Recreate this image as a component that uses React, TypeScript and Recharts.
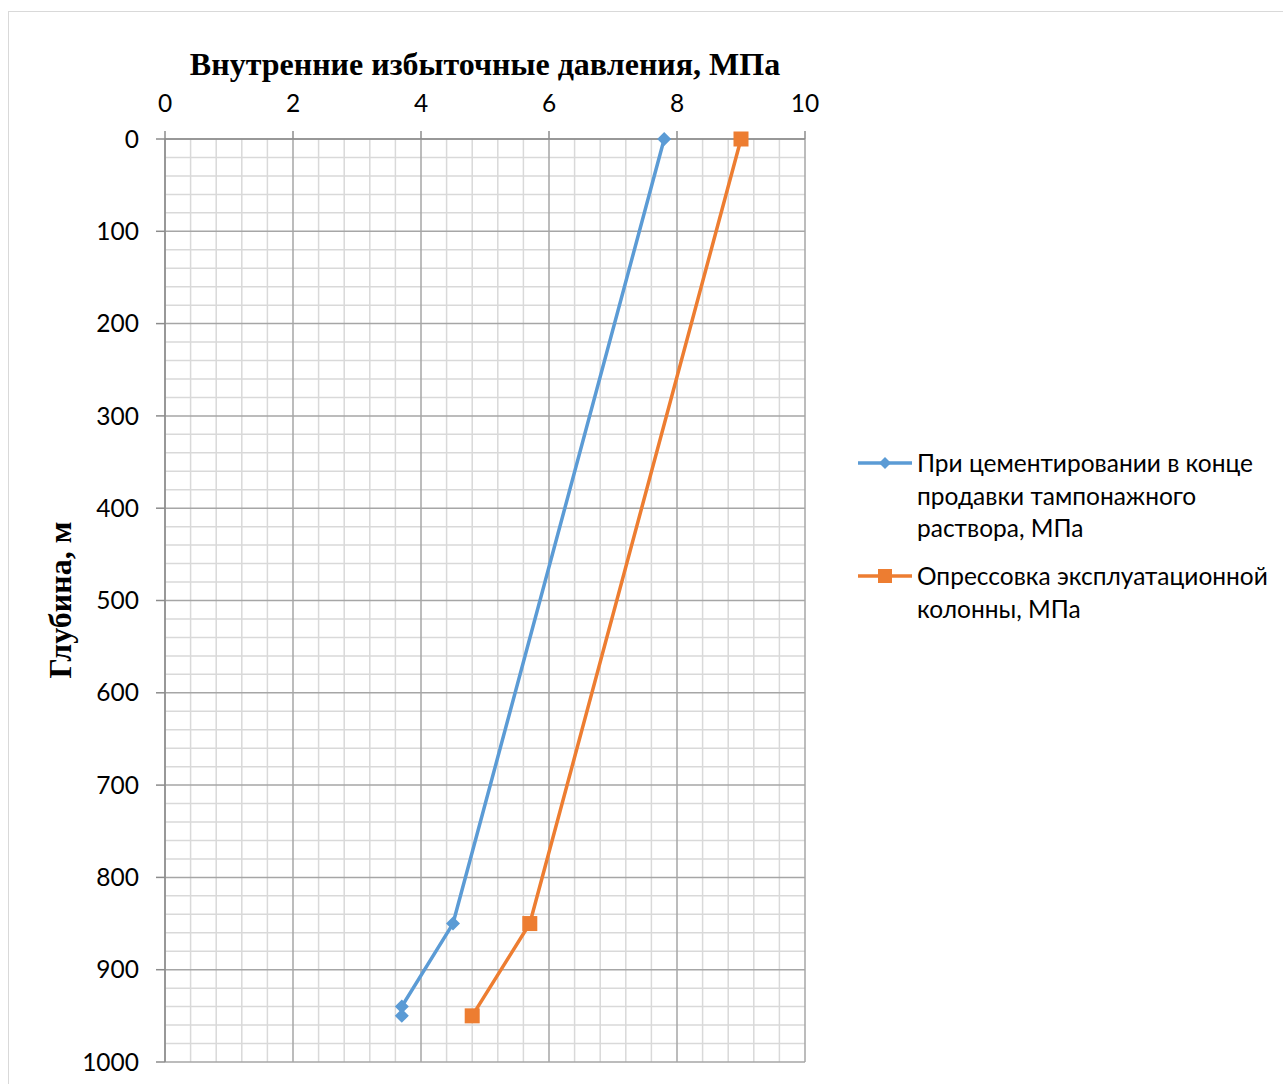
import React from "react";
import { ReferenceLine, Scatter, ScatterChart, XAxis, YAxis } from "recharts";

// Pressure (MPa) vs depth (m) for the two load cases
const cementingPressure = [7.8, 4.5, 3.7, 3.7];
const cementingDepth = [0, 850, 940, 950];
const testPressure = [9.0, 5.7, 4.8];
const testDepth = [0, 850, 950];

const pressureTicks = [0, 2, 4, 6, 8, 10];
const depthTicks = [0, 100, 200, 300, 400, 500, 600, 700, 800, 900, 1000];

const BLUE = "#5b9bd5";
const ORANGE = "#ed7d31";
const MINOR = "#d9d9d9";
const MAJOR = "#a6a6a6";
const FONT = "Lato, 'Open Sans', sans-serif";
const SERIF = "'Liberation Serif', 'Times New Roman', serif";

const cementing = cementingPressure.map((p, i) => ({ p, d: cementingDepth[i] }));
const test = testPressure.map((p, i) => ({ p, d: testDepth[i] }));

// minor grid every 0.4 MPa and every 20 m
const minorX: number[] = [];
for (let i = 1; i < 25; i++) if (i % 5 !== 0) minorX.push(+(i * 0.4).toFixed(1));
const minorY: number[] = [];
for (let i = 1; i < 50; i++) if (i % 5 !== 0) minorY.push(i * 20);

const Diamond = (props: any) => {
  const { cx, cy } = props;
  const r = 7;
  return <path d={`M${cx},${cy - r}L${cx + r},${cy}L${cx},${cy + r}L${cx - r},${cy}Z`} fill={BLUE} />;
};

const Square = (props: any) => {
  const { cx, cy } = props;
  const r = 7.5;
  return <rect x={cx - r} y={cy - r} width={2 * r} height={2 * r} fill={ORANGE} />;
};

const W = 1270;
const H = 1070;

function LegendRow({ color, marker, lines, top }: { color: string; marker: "d" | "s"; lines: string[]; top: number }) {
  return (
    <div style={{ position: "absolute", left: 849, top, display: "flex" }}>
      <svg width={56} height={32} style={{ flex: "none" }}>
        <line x1={0} x2={54} y1={16} y2={16} stroke={color} strokeWidth={3.5} />
        {marker === "d" ? (
          <path d="M27,10L33,16L27,22L21,16Z" fill={color} />
        ) : (
          <rect x={20} y={9} width={14} height={14} fill={color} />
        )}
      </svg>
      <div style={{ marginLeft: 3, fontFamily: FONT, fontSize: 24.5, lineHeight: "32.5px", color: "#000", whiteSpace: "nowrap" }}>
        {lines.map((l) => (
          <div key={l}>{l}</div>
        ))}
      </div>
    </div>
  );
}

export default function App() {
  return (
    <div style={{ position: "fixed", left: 0, top: 0, width: 1283, height: 1084, overflow: "hidden", background: "#fff" }}>
      <div
        style={{
          position: "absolute",
          left: 8,
          top: 11,
          width: 1300,
          height: 1100,
          border: "1px solid #d9d9d9",
          background: "#fff",
        }}
      >
        <ScatterChart width={W} height={H} margin={{ top: 97, left: 96, right: W - 796, bottom: H - 1050 }}>
          {minorX.map((v) => (
            <ReferenceLine key={`mx${v}`} x={v} stroke={MINOR} strokeWidth={1.5} />
          ))}
          {minorY.map((v) => (
            <ReferenceLine key={`my${v}`} y={v} stroke={MINOR} strokeWidth={1.5} />
          ))}
          {pressureTicks.map((v) => (
            <ReferenceLine key={`Mx${v}`} x={v} stroke={MAJOR} strokeWidth={1.5} />
          ))}
          {depthTicks.map((v) => (
            <ReferenceLine key={`My${v}`} y={v} stroke={MAJOR} strokeWidth={1.5} />
          ))}
          <XAxis
            type="number"
            dataKey="p"
            orientation="top"
            domain={[0, 10]}
            ticks={pressureTicks}
            interval={0}
            height={30}
            axisLine={{ stroke: "#8c8c8c", strokeWidth: 1.5 }}
            tickLine={{ stroke: "#8c8c8c", strokeWidth: 1.5 }}
            tickSize={8}
            tickMargin={19}
            tick={{ fill: "#000", fontSize: 24.5, fontFamily: FONT }}
          />
          <YAxis
            type="number"
            dataKey="d"
            reversed
            domain={[0, 1000]}
            ticks={depthTicks}
            interval={0}
            width={60}
            axisLine={{ stroke: "#8c8c8c", strokeWidth: 1.5 }}
            tickLine={{ stroke: "#8c8c8c", strokeWidth: 1.5 }}
            tickSize={9}
            tickMargin={17}
            tick={{ fill: "#000", fontSize: 24.5, fontFamily: FONT }}
          />
          <Scatter
            data={cementing}
            fill={BLUE}
            line={{ stroke: BLUE, strokeWidth: 3.5 }}
            shape={Diamond}
            isAnimationActive={false}
          />
          <Scatter
            data={test}
            fill={ORANGE}
            line={{ stroke: ORANGE, strokeWidth: 3.5 }}
            shape={Square}
            isAnimationActive={false}
          />
        </ScatterChart>
        <svg width={W} height={H} style={{ position: "absolute", left: 0, top: 0, pointerEvents: "none" }}>
          <text x={476} y={63} textAnchor="middle" fontFamily={SERIF} fontWeight="bold" fontSize={32} fill="#000">
            Внутренние избыточные давления, МПа
          </text>
          <text
            transform="translate(62,588) rotate(-90)"
            textAnchor="middle"
            fontFamily={SERIF}
            fontWeight="bold"
            fontSize={32}
            fill="#000"
          >
            Глубина, м
          </text>
        </svg>
        <LegendRow color={BLUE} marker="d" lines={["При цементировании в конце", "продавки тампонажного", "раствора, МПа"]} top={435} />
        <LegendRow color={ORANGE} marker="s" lines={["Опрессовка эксплуатационной", "колонны, МПа"]} top={548} />
      </div>
    </div>
  );
}
